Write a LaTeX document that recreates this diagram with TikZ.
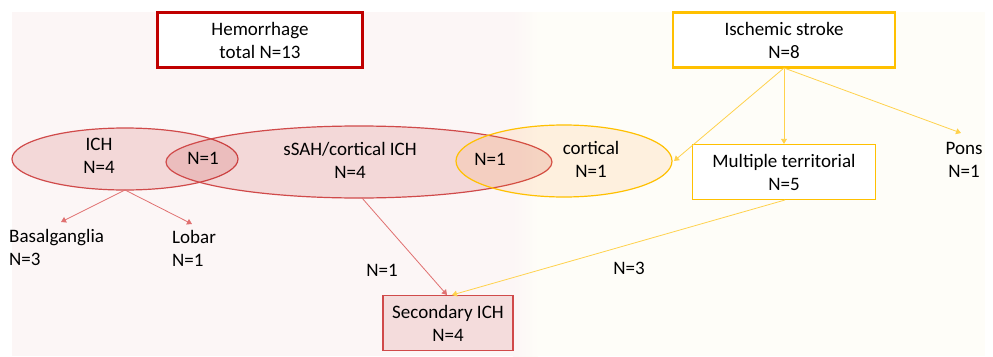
\documentclass[tikz,border=0pt]{standalone}
\usepackage{fontspec}
\setmainfont{Carlito}
\usetikzlibrary{arrows.meta,shapes.geometric}
\definecolor{hred}{HTML}{C00000}
\definecolor{ered}{HTML}{D04A4A}
\definecolor{ared}{HTML}{E07070}
\definecolor{gold}{HTML}{FFC000}
\definecolor{agold}{HTML}{FFD24D}
\definecolor{bgpink}{HTML}{FCF6F6}
\definecolor{bgcream}{HTML}{FEFDF8}
\definecolor{sfill}{HTML}{F4DCDC}
\tikzset{
  lbl/.style={font=\fontsize{19}{23}\selectfont, align=center, inner sep=0pt},
  llbl/.style={font=\fontsize{19}{23}\selectfont, align=left, inner sep=0pt},
  redell/.style={ellipse, draw=ered, line width=1.2pt, fill=red!70!black, fill opacity=0.12, draw opacity=1},
  goldell/.style={ellipse, draw=gold, line width=1.2pt, fill=orange, fill opacity=0.1, draw opacity=1},
  redarr/.style={draw=ared, line width=0.8pt, -{Triangle[length=5pt,width=6pt]}},
  goldarr/.style={draw=agold, line width=0.8pt, -{Triangle[length=5pt,width=6pt]}},
}
\begin{document}
\begin{tikzpicture}[x=1pt,y=-1pt]
\useasboundingbox (0,0) rectangle (993,356);
% background
\fill[bgpink] (12,12) rectangle (514,356);
\shade[left color=bgpink, right color=bgcream] (513,12) rectangle (538,356);
\fill[bgcream] (537,12) rectangle (985,356);

% top boxes
\node[draw=hred, line width=2.2pt, fill=white, minimum width=205pt, minimum height=55pt, lbl] (hem) at (260,40) {Hemorrhage\\total N=13};
\node[draw=gold, line width=2.2pt, fill=white, minimum width=222pt, minimum height=55pt, lbl] (isch) at (784,40) {Ischemic stroke\\N=8};

% ellipses
\node[redell, minimum width=226pt, minimum height=62pt, inner sep=0pt] (ich) at (125,159) {};
\node[redell, minimum width=386pt, minimum height=72pt, inner sep=0pt] (ssah) at (359,162) {};
\node[goldell, minimum width=216pt, minimum height=72pt, inner sep=0pt] (cort) at (564,161) {};

\node[lbl] (ichT) at (99,156) {ICH\\N=4};
\node[lbl] (ov1) at (203,158) {N=1};
\node[lbl] (ssahT) at (350,160) {sSAH/cortical ICH\\N=4};
\node[lbl] (ov2) at (490,159) {N=1};
\node[lbl] (cortT) at (591,159) {cortical\\N=1};

% ischemic branches
\node[draw=gold, line width=1.3pt, fill=white, minimum width=183pt, minimum height=55pt, lbl] (multi) at (784,172) {Multiple territorial\\N=5};
\node[lbl] (pons) at (964,160) {Pons\\N=1};

% ICH branches
\node[llbl, anchor=north west] (basal) at (9,229) {Basalganglia\\N=3};
\node[llbl, anchor=north west] (lobar) at (172,230) {Lobar\\N=1};

% secondary
\node[draw=ered, line width=1.3pt, fill=sfill, minimum width=130pt, minimum height=55pt, lbl] (sec) at (448,323) {Secondary ICH\\N=4};

\coordinate (ichB) at (125,190);
\coordinate (basTip) at (61,222);
\coordinate (lobTip) at (192,224);
\coordinate (isB) at (784,68);
\coordinate (cortTip) at (674,161);
\coordinate (ponsTip) at (961,133);
\coordinate (ssahB) at (362,198);
\coordinate (secTop1) at (447,295);
\coordinate (secTop2) at (452,295);
\coordinate (multiB) at (785,200);

\draw[redarr] (ichB) -- (basTip);
\draw[redarr] (ichB) -- (lobTip);
\draw[redarr] (ssahB) -- (secTop1);
\draw[goldarr] (isB) -- (cortTip);
\draw[goldarr] (isB) -- (multi.north);
\draw[goldarr] (isB) -- (ponsTip);
\draw[goldarr] (multiB) -- (secTop2);

\node[lbl] (n1) at (382,270) {N=1};
\node[lbl] (n3) at (629,268) {N=3};
\end{tikzpicture}
\end{document}
